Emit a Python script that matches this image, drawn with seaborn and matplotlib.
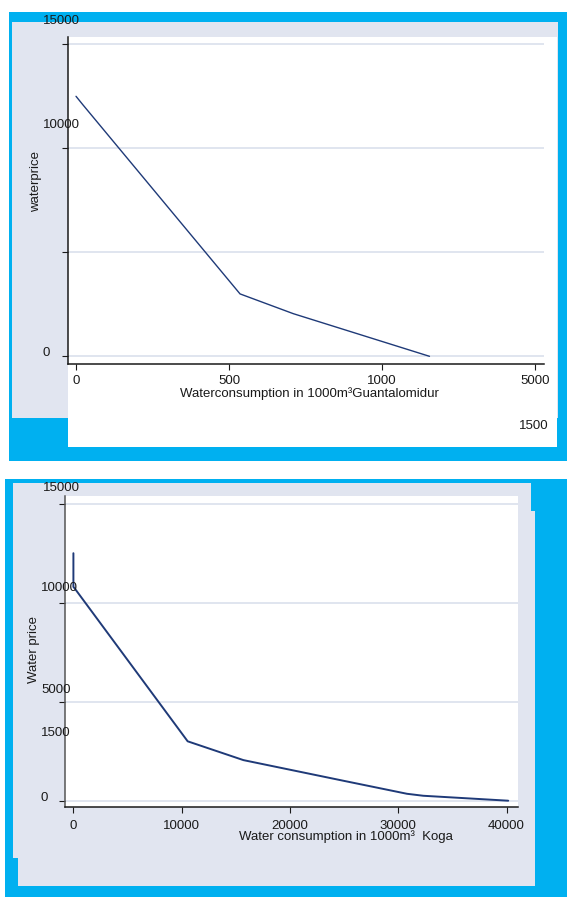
import matplotlib
matplotlib.use("Agg")
import matplotlib.pyplot as plt
from matplotlib.patches import Rectangle
import pandas as pd
import seaborn as sns

# Guantalomidur: water price against consumption
guanta_consumption = [0, 22, 536, 710, 1155]
guanta_price = [12500, 12100, 3000, 2050, 0]
guanta_xticks = [0, 500, 1000, 1500]
guanta_xticklabels = ["0", "500", "1000", "5000"]
guanta_yticks = [0, 5000, 10000, 15000]
guanta_ylabels = ["15000", "10000", "0"]

# Koga: water price against consumption
koga_consumption = [0, 0, 150, 10550, 15700, 25000, 30800, 32300, 40150]
koga_price = [12500, 10800, 10700, 3000, 2050, 1000, 350, 250, 0]
koga_xticks = [0, 10000, 20000, 30000, 40000]
koga_xticklabels = ["0", "10000", "20000", "30000", "40000"]
koga_yticks = [0, 5000, 10000, 15000]
koga_ylabels = ["15000", "10000", "5000", "1500", "0"]

W, H = 567, 897
BLUE = "#00b0f0"
PANEL = "#e1e5f0"
GRID = "#dde3ee"
NAVY = "#1f3a78"
INK = "#1a1a1a"
FS = 9.5

sns.set_style("white")
plt.rcParams["font.family"] = ["Liberation Sans", "DejaVu Sans"]

fig = plt.figure(figsize=(W / 100, H / 100), dpi=100)
fig.patch.set_facecolor("white")


def frac(x0, y0, x1, y1):
    """Pixel box (top-left origin) -> figure fraction [left, bottom, width, height]."""
    return [x0 / W, 1 - y1 / H, (x1 - x0) / W, (y1 - y0) / H]


def box(x0, y0, x1, y1, color):
    l, b, w, h = frac(x0, y0, x1, y1)
    fig.add_artist(Rectangle((l, b), w, h, transform=fig.transFigure,
                             facecolor=color, edgecolor="none", zorder=-5))


def label(x, y, s, **kw):
    kw.setdefault("ha", "center")
    kw.setdefault("va", "baseline")
    fig.text(x / W, 1 - y / H, s, fontsize=FS, color=INK, **kw)


# panel backgrounds
box(9, 12, 567, 460.7, BLUE)
box(12, 22, 558, 418, PANEL)
box(67.7, 37, 557, 446.7, "white")

box(5, 479, 567, 897, BLUE)
box(12.7, 482.7, 530.7, 510.7, PANEL)
box(12.7, 510.7, 535.3, 858.3, PANEL)
box(18, 858.3, 535.3, 886, PANEL)


def style_axes(ax, xticks, xticklabels, yticks, pad, spine_left):
    ax.set_facecolor("white")
    for side in ("top", "right"):
        ax.spines[side].set_visible(False)
    ax.spines["left"].set_color(spine_left)
    ax.spines["bottom"].set_color(INK)
    ax.spines["left"].set_linewidth(1.1)
    ax.spines["bottom"].set_linewidth(1.1)
    ax.set_yticks(yticks)
    ax.set_yticklabels([])
    ax.set_xticks(xticks)
    ax.set_xticklabels(xticklabels, fontsize=FS, color=INK)
    ax.tick_params(axis="both", direction="out", length=4, width=0.8,
                   color=INK, left=True, bottom=True)
    ax.tick_params(axis="x", pad=pad)
    for y in yticks:
        ax.axhline(y, color=GRID, lw=1.3, zorder=0)
    ax.set_xlabel("")
    ax.set_ylabel("")


# --- Guantalomidur ---
ax1 = fig.add_axes(frac(67.6, 37, 543.6, 364))
df1 = pd.DataFrame({"consumption": guanta_consumption, "price": guanta_price})
sns.lineplot(data=df1, x="consumption", y="price", ax=ax1, sort=False,
             estimator=None, color=NAVY, lw=1.0)
ax1.set_xlim(-27.5, 1528)
ax1.set_ylim(-370, 15351)
style_axes(ax1, guanta_xticks, guanta_xticklabels, guanta_yticks, 4.0, INK)

for s, (x, y) in zip(guanta_ylabels, [(61, 24), (61, 128.3), (46, 356)]):
    label(x, y, s)
label(309, 396.6, "Waterconsumption in 1000m\u00b3Guantalomidur")
label(534, 429.3, "1500")
fig.text(39.5 / W, 1 - 181.7 / H, "waterprice", fontsize=FS, color=INK,
         rotation=90, rotation_mode="anchor", ha="center", va="baseline")

# --- Koga ---
ax2 = fig.add_axes(frac(65, 496, 518, 807.3))
df2 = pd.DataFrame({"consumption": koga_consumption, "price": koga_price})
sns.lineplot(data=df2, x="consumption", y="price", ax=ax2, sort=False,
             estimator=None, color=NAVY, lw=1.4)
ax2.set_xlim(-776, 41053)
ax2.set_ylim(-333, 15389)
style_axes(ax2, koga_xticks, koga_xticklabels, koga_yticks, 5.0, "#555555")

for s, (x, y) in zip(koga_ylabels, [(61, 491), (59.5, 590.7), (56, 693.3),
                                    (56, 736), (44, 801)]):
    label(x, y, s)
label(346, 840, "Water consumption in 1000m\u00b3  Koga")
fig.text(37.5 / W, 1 - 649 / H, "Water price", fontsize=FS, color=INK,
         rotation=90, rotation_mode="anchor", ha="center", va="baseline")

fig.savefig("out.png", dpi=100)
